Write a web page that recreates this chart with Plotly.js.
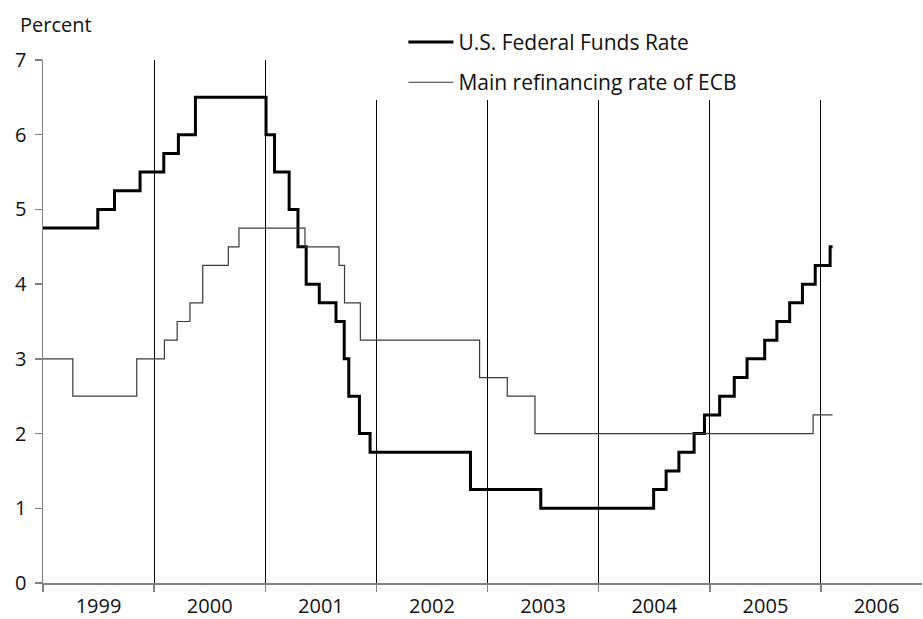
<!DOCTYPE html>
<html>
<head>
<meta charset="utf-8">
<script src="https://cdn.plot.ly/plotly-3.0.1.min.js"></script>
<style>html,body{margin:0;padding:0;background:#fff;}#chart{width:923px;height:619px;}</style>
</head>
<body>
<div id="chart"></div>
<script>
// U.S. Federal Funds target rate (change dates and levels)
const fedDates = ['1999-01-01','1999-06-30','1999-08-24','1999-11-16','2000-02-02','2000-03-21','2000-05-16',
  '2001-01-03','2001-01-31','2001-03-20','2001-04-18','2001-05-15','2001-06-27','2001-08-21','2001-09-17',
  '2001-10-02','2001-11-06','2001-12-11','2002-11-06','2003-06-25','2004-06-30','2004-08-10','2004-09-21',
  '2004-11-10','2004-12-14','2005-02-02','2005-03-22','2005-05-03','2005-06-30','2005-08-09','2005-09-20',
  '2005-11-01','2005-12-13','2006-01-31','2006-02-08'];
const fedRates = [4.75,5.00,5.25,5.50,5.75,6.00,6.50,
  6.00,5.50,5.00,4.50,4.00,3.75,3.50,3.00,
  2.50,2.00,1.75,1.25,1.00,1.25,1.50,1.75,
  2.00,2.25,2.50,2.75,3.00,3.25,3.50,3.75,
  4.00,4.25,4.50,4.50];

// ECB main refinancing rate
const ecbDates = ['1999-01-01','1999-04-09','1999-11-05','2000-02-04','2000-03-17','2000-04-28','2000-06-09',
  '2000-09-01','2000-10-06','2001-05-11','2001-08-31','2001-09-18','2001-11-09','2002-12-06','2003-03-07',
  '2003-06-06','2005-12-06','2006-02-08'];
const ecbRates = [3.00,2.50,3.00,3.25,3.50,3.75,4.25,
  4.50,4.75,4.50,4.25,3.75,3.25,2.75,2.50,
  2.00,2.25,2.25];

const seriesNames = ['U.S. Federal Funds Rate','Main refinancing rate of ECB'];
const yTicks = [0,1,2,3,4,5,6,7];

const FONT = 'Open Sans, DejaVu Sans, sans-serif';

const traces = [
  {x: fedDates, y: fedRates, type: 'scatter', mode: 'lines', name: seriesNames[0],
   line: {shape: 'hv', color: '#000000', width: 3}, legendgroup: 'a'},
  {x: ecbDates, y: ecbRates, type: 'scatter', mode: 'lines', name: seriesNames[1],
   line: {shape: 'hv', color: '#3a3a3a', width: 1.2}, legendgroup: 'b'}
];

const layout = {
  width: 923, height: 619,
  margin: {l: 43, r: 1, t: 60, b: 36},
  paper_bgcolor: '#ffffff', plot_bgcolor: '#ffffff',
  font: {family: FONT, size: 20, color: '#111111'},
  showlegend: true,
  legend: {x: 0.41, xanchor: 'left', y: 1.073, yanchor: 'top', yref: 'paper',
    bgcolor: 'rgba(0,0,0,0)', borderwidth: 0, traceorder: 'grouped', tracegroupgap: 10,
    itemwidth: 45, font: {family: FONT, size: 21, color: '#111111'}},
  xaxis: {type: 'date', range: ['1999-01-01', '2006-11-29'],
    tick0: '1999-01-01', dtick: 'M12', tickformat: '%Y', ticklabelmode: 'period',
    showgrid: true, gridcolor: '#000000', gridwidth: 1,
    ticks: 'outside', ticklen: 7, tickcolor: '#808080', tickwidth: 1.5,
    showline: true, linecolor: '#808080', linewidth: 1.5, zeroline: false,
    ticklabelstandoff: -3, tickfont: {family: FONT, size: 20, color: '#111111'}, fixedrange: true},
  yaxis: {range: [0, 7], tickvals: yTicks, showgrid: false, zeroline: false,
    ticks: 'outside', ticklen: 7, tickcolor: '#808080', tickwidth: 1.5,
    showline: true, linecolor: '#808080', linewidth: 1.5,
    ticklabelstandoff: 4, tickfont: {family: FONT, size: 20, color: '#111111'}, fixedrange: true},
  shapes: [
    {type: 'rect', xref: 'paper', yref: 'paper', x0: 0.372, x1: 1.01, y0: 0.9235, y1: 1.01,
     fillcolor: '#ffffff', line: {width: 0}, layer: 'above'}
  ],
  annotations: [
    {text: 'Percent', xref: 'paper', yref: 'paper', x: -0.0284, y: 1.067, xanchor: 'left', yanchor: 'middle',
     showarrow: false, font: {family: FONT, size: 20, color: '#111111'}}
  ]
};

Plotly.newPlot('chart', traces, layout, {staticPlot: true, displayModeBar: false});
</script>
</body>
</html>
